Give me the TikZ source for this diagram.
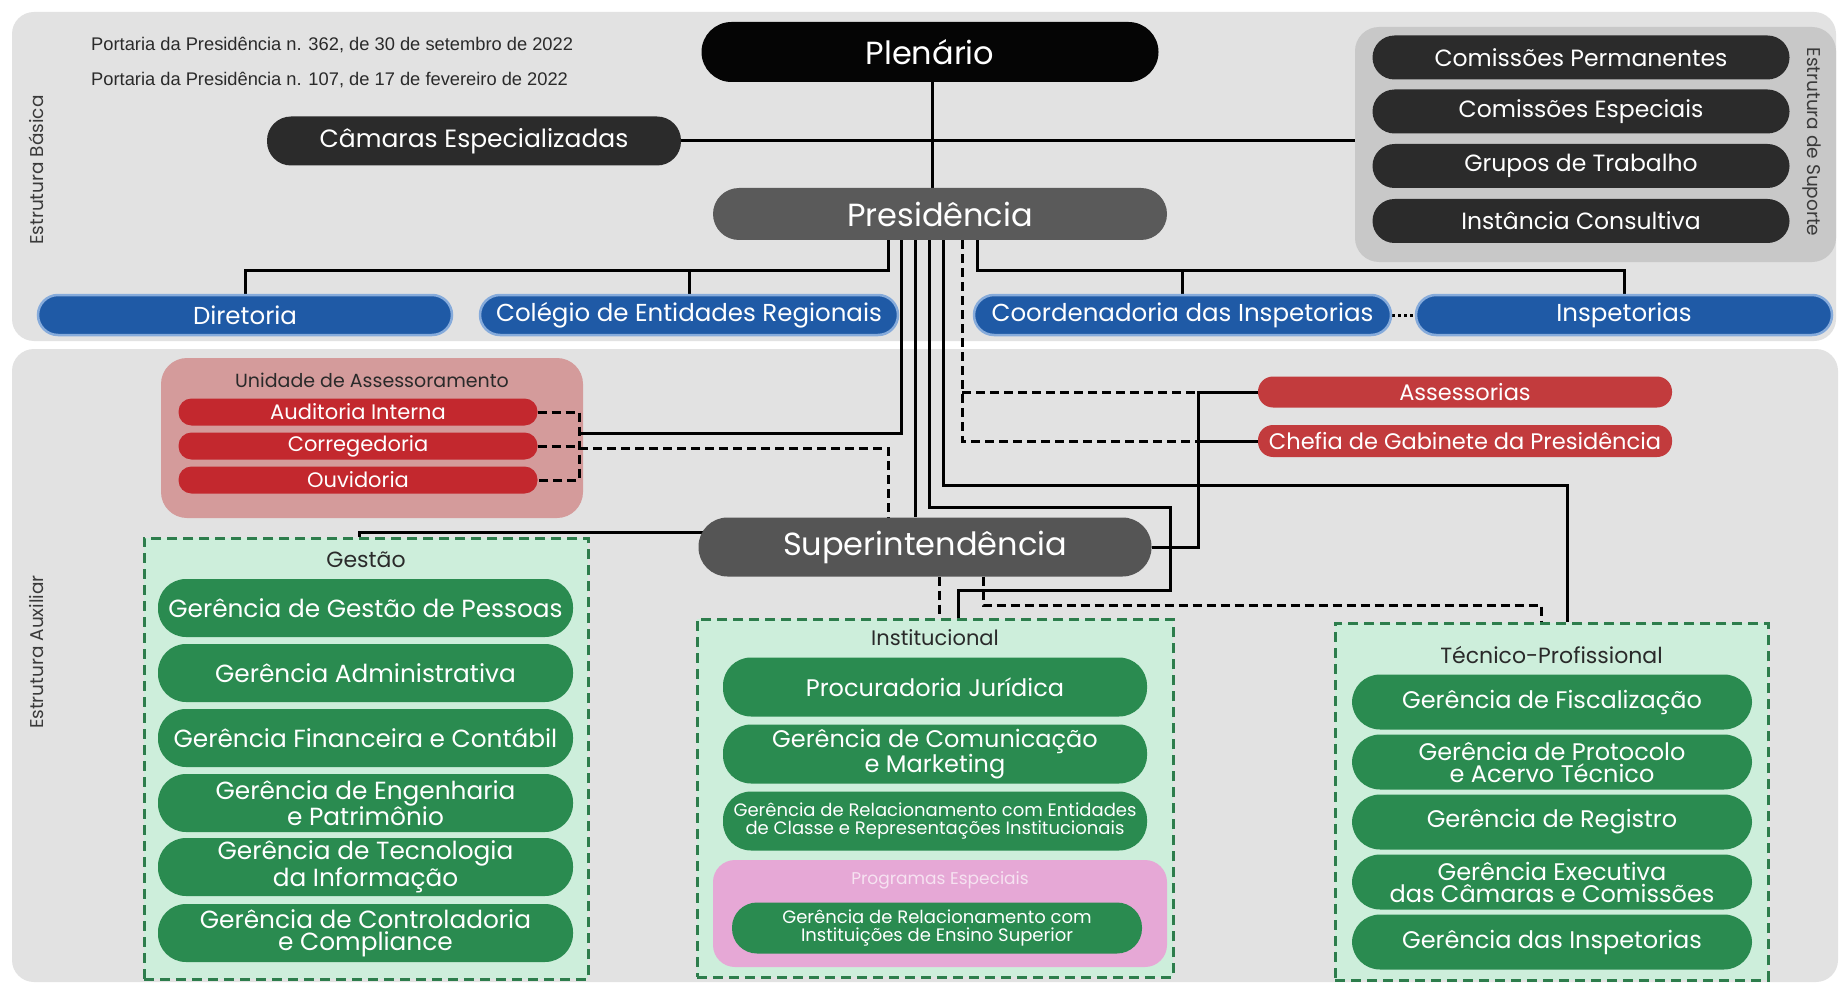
\documentclass[tikz,border=0pt]{standalone}
\usepackage{fontspec}
\setmainfont{Poppins}
\newfontfamily\arialf{Liberation Sans}
\usetikzlibrary{calc}
\newcommand\myfs[1]{\fontsize{#1}{#1}\selectfont}
\newcommand\myfsl[2]{\fontsize{#1}{#2}\selectfont}
\definecolor{panelgray}{HTML}{E2E2E2}
\definecolor{supgray}{HTML}{C8C8C8}
\definecolor{plenblack}{HTML}{050505}
\definecolor{darkpill}{HTML}{2B2B2B}
\definecolor{presgray}{HTML}{5A5A5A}
\definecolor{supigray}{HTML}{555555}
\definecolor{bluefill}{HTML}{1F5AA6}
\definecolor{blueedge}{HTML}{86ABDB}
\definecolor{redpill}{HTML}{C3282E}
\definecolor{unitbox}{HTML}{D49B9B}
\definecolor{asspill}{HTML}{C23B3D}
\definecolor{greenpill}{HTML}{2A8B50}
\definecolor{mint}{HTML}{CDEEDB}
\definecolor{greendash}{HTML}{2D7D4C}
\definecolor{pinkbox}{HTML}{E6A8D6}
\definecolor{progtext}{HTML}{F6E2F1}
\definecolor{titlegray}{HTML}{2A2A2A}
\definecolor{labelgray}{HTML}{3A3A3A}
\pgfdeclarelayer{panel}
\pgfdeclarelayer{wires}
\pgfsetlayers{panel,wires,main}
\tikzset{
  pill/.style={rectangle, rounded corners=#1, inner sep=0pt, align=center, text=white},
  darkbox/.style={pill=22, fill=darkpill, minimum width=417, minimum height=44, font=\myfs{23.5}},
  bluebox/.style={pill=20, fill=bluefill, draw=blueedge, line width=2.5pt, minimum width=416, minimum height=40, font=\myfs{24.5}},
  redbox/.style={pill=13, fill=redpill, minimum width=359, minimum height=27, font=\myfs{21}},
  assbox/.style={pill=15, fill=asspill, minimum width=414, minimum height=31, font=\myfs{22.5}},
  gbox/.style={pill=28, fill=greenpill, font=\myfsl{24}{22}},
  groupbox/.style={rectangle, fill=mint, draw=greendash, line width=3pt, dash pattern=on 10pt off 6pt, inner sep=0pt},
  grouptitle/.style={text=titlegray, font=\myfs{22}, inner sep=0pt},
  conn/.style={line width=3pt, black},
  dconn/.style={line width=3pt, black, dash pattern=on 9pt off 5pt},
  vlabel/.style={text=labelgray, font=\myfs{18.5}, inner sep=0pt},
}
\begin{document}
\begin{tikzpicture}[x=1pt,y=-1pt]
\useasboundingbox (0,0) rectangle (1843,984);

% ---------- coordinates for connector routes ----------
\coordinate (yb) at (0,270);
\coordinate (xP) at (932,0);
\coordinate (xD) at (888,0);
\coordinate (tx1) at (901,0);
\coordinate (tx2) at (915,0);
\coordinate (tx3) at (929,0);
\coordinate (tx4) at (943,0);
\coordinate (xA) at (962,0);
\coordinate (xR) at (977,0);
\coordinate (br) at (579,0);
\coordinate (brS) at (579,433);
\coordinate (brD) at (579,448);
\coordinate (xU) at (888,0);
\coordinate (xS) at (1198,0);
\coordinate (yG) at (0,532);
\coordinate (xG) at (359,0);
\coordinate (k1) at (1170,507);
\coordinate (k2) at (958,590);
\coordinate (k3) at (1567,485);
\coordinate (xI) at (939,0);
\coordinate (xT) at (983,0);
\coordinate (k5) at (1541,605);

% ---------- panels and group boxes ----------
\begin{pgfonlayer}{panel}
\fill[white] (0,0) rectangle (1843,984);
\fill[panelgray, rounded corners=22] (12,12) rectangle (1836,341);
\fill[panelgray, rounded corners=22] (12,349) rectangle (1838,982);
\node[rectangle, rounded corners=24, fill=supgray, minimum width=481, minimum height=235, inner sep=0pt] (supbox) at (1595.5,144.5) {};
\node[rectangle, rounded corners=26, fill=unitbox, minimum width=422, minimum height=160, inner sep=0pt] (unid) at (372,438) {};
\node[groupbox, minimum width=444, minimum height=441] (gest) at (366,758.5) {};
\node[groupbox, minimum width=476, minimum height=358] (inst) at (935,798) {};
\node[groupbox, minimum width=433, minimum height=357] (tec) at (1551.5,801.5) {};
\node[rectangle, rounded corners=22, fill=pinkbox, minimum width=454, minimum height=107, inner sep=0pt] (prog) at (940,913.5) {};
\end{pgfonlayer}

% ---------- texts ----------
\node[anchor=west, font=\arialf\myfs{18.3}, text=titlegray, inner sep=0pt] (port1) at (91,45) {Portaria da Presidência n. 362, de 30 de setembro de 2022};
\node[anchor=west, font=\arialf\myfs{18.3}, text=titlegray, inner sep=0pt] (port2) at (91,80) {Portaria da Presidência n. 107, de 17 de fevereiro de 2022};
\node[vlabel, rotate=90] (lblB) at (36,170) {Estrutura Básica};
\node[vlabel, rotate=-90] (lblS) at (1812,142) {Estrutura de Suporte};
\node[vlabel, rotate=90] (lblA) at (37,652) {Estrutura Auxiliar};

% ---------- top structure ----------
\node[pill=30, fill=plenblack, minimum width=457, minimum height=60, font=\myfs{32}] (plen) at (930,52) {Plenário};
\node[pill=24, fill=darkpill, minimum width=414, minimum height=49, font=\myfs{25}] (cam) at (474,141) {Câmaras Especializadas};
\node[darkbox] (s1) at (1581,57.5) {Comissões Permanentes};
\node[darkbox] (s2) at (1581,111.5) {Comissões Especiais};
\node[darkbox] (s3) at (1581,166) {Grupos de Trabalho};
\node[darkbox] (s4) at (1581,221) {Instância Consultiva};
\node[pill=26, fill=presgray, minimum width=454, minimum height=52, font=\myfs{32}] (pres) at (940,214) {Presidência};

\node[bluebox, minimum width=414] (dir) at (245,315) {Diretoria};
\node[bluebox, minimum width=418] (col) at (689,315) {Colégio de Entidades Regionais};
\node[bluebox, minimum width=417] (coord) at (1182.5,315) {Coordenadoria das Inspetorias};
\node[bluebox, minimum width=416] (insp) at (1624,315) {Inspetorias};

% ---------- lower structure ----------
\node[inner sep=0pt, text=titlegray, font=\myfs{19}] (unidT) at (372,380) {Unidade de Assessoramento};
\node[redbox] (aud) at (358,412) {Auditoria Interna};
\node[redbox] (corr) at (358,446) {Corregedoria};
\node[redbox] (ouv) at (358,480) {Ouvidoria};

\node[assbox] (ass) at (1465,392) {Assessorias};
\node[assbox, minimum height=32] (chef) at (1465,441) {Chefia de Gabinete da Presidência};

\node[pill=29, fill=supigray, minimum width=453, minimum height=59, font=\myfs{32}] (supi) at (925,547) {Superintendência};

\node[grouptitle] (gestT) at (366,560) {Gestão};
\node[gbox, minimum width=415, minimum height=58, font=\myfsl{24.8}{22}] (g1) at (365.5,608) {Gerência de Gestão de Pessoas};
\node[gbox, minimum width=415, minimum height=58, font=\myfsl{24.8}{22}] (g2) at (365.5,673) {Gerência Administrativa};
\node[gbox, minimum width=415, minimum height=58, font=\myfsl{24.8}{22}] (g3) at (365.5,738) {Gerência Financeira e Contábil};
\node[gbox, minimum width=415, minimum height=58, font=\myfsl{24.8}{22}] (g4) at (365.5,803) {Gerência de Engenharia\\e Patrimônio};
\node[gbox, minimum width=415, minimum height=58, font=\myfsl{24.8}{22}] (g5) at (365.5,867) {Gerência de Tecnologia\\da Informação};
\node[gbox, minimum width=415, minimum height=58, font=\myfsl{24.8}{22}] (g6) at (365.5,933) {Gerência de Controladoria\\e Compliance};

\node[grouptitle, font=\myfs{21}] (instT) at (935,638) {Institucional};
\node[gbox, minimum width=424, minimum height=59] (i1) at (935,687) {Procuradoria Jurídica};
\node[gbox, minimum width=424, minimum height=59] (i2) at (935,754) {Gerência de Comunicação\\e Marketing};
\node[gbox, minimum width=424, minimum height=59, font=\myfsl{18}{17.5}] (i3) at (935,821) {Gerência de Relacionamento com Entidades\\de Classe e Representações Institucionais};
\node[inner sep=0pt, text=progtext, font=\myfs{17}] (progT) at (940,880) {Programas Especiais};
\node[gbox, minimum width=410, minimum height=51, pill=25, font=\myfsl{18}{17.5}] (i4) at (937,928) {Gerência de Relacionamento com\\Instituições de Ensino Superior};

\node[grouptitle] (tecT) at (1551.5,655) {Técnico-Profissional};
\node[gbox, minimum width=400, minimum height=55] (p1) at (1552,702) {Gerência de Fiscalização};
\node[gbox, minimum width=400, minimum height=55] (p2) at (1552,762) {Gerência de Protocolo\\e Acervo Técnico};
\node[gbox, minimum width=400, minimum height=55] (p3) at (1552,822) {Gerência de Registro};
\node[gbox, minimum width=400, minimum height=55] (p4) at (1552,882) {Gerência Executiva\\das Câmaras e Comissões};
\node[gbox, minimum width=400, minimum height=55] (p5) at (1552,942) {Gerência das Inspetorias};

% ---------- connectors ----------
\begin{pgfonlayer}{wires}
\draw[conn] (plen.south -| xP) -- (pres.north -| xP);
\draw[conn] (cam) -- (cam -| supbox.west);
\draw[conn] (pres.south -| xD) |- (dir.north |- yb) -- (dir.north);
\draw[conn] (col.north |- yb) -- (col.north);
\draw[conn] (pres.south -| xR) |- (insp.north |- yb) -- (insp.north);
\draw[conn] (coord.north |- yb) -- (coord.north);
\draw[line width=3pt, dash pattern=on 3pt off 3pt] (coord.east) -- (insp.west);
% Unidade de Assessoramento
\draw[conn] (pres.south -| tx1) |- (brS);
\draw[dconn] (aud) -- (aud -| br) -- (ouv -| br) -- (ouv);
\draw[dconn] (corr) -- (corr -| br);
\draw[dconn] (brD) -| (supi.north -| xU);
% Presidencia -> Superintendencia
\draw[conn] (pres.south -| tx2) -- (supi.north -| tx2);
% Presidencia -> Institucional
\draw[conn] (pres.south -| tx3) |- (k1) |- (k2) -- (inst.north -| k2);
% Presidencia -> Tecnico-Profissional
\draw[conn] (pres.south -| tx4) |- (k3) -- (tec.north -| k3);
% Presidencia -> Assessorias / Chefia (dashed)
\draw[dconn] (pres.south -| xA) |- (chef -| xS);
\draw[dconn] (ass -| xA) -- (ass -| xS);
% Superintendencia -> Assessorias / Chefia
\draw[conn] (supi) -| (ass -| xS) -- (ass);
\draw[conn] (chef -| xS) -- (chef);
% Superintendencia -> Gestao
\draw[conn] (supi |- yG) -| (gest.north -| xG);
% Superintendencia -> Institucional / Tecnico (dashed)
\draw[dconn] (supi.south -| xI) -- (inst.north -| xI);
\draw[dconn] (supi.south -| xT) |- (k5) -- (tec.north -| k5);
\end{pgfonlayer}
\end{tikzpicture}
\end{document}
